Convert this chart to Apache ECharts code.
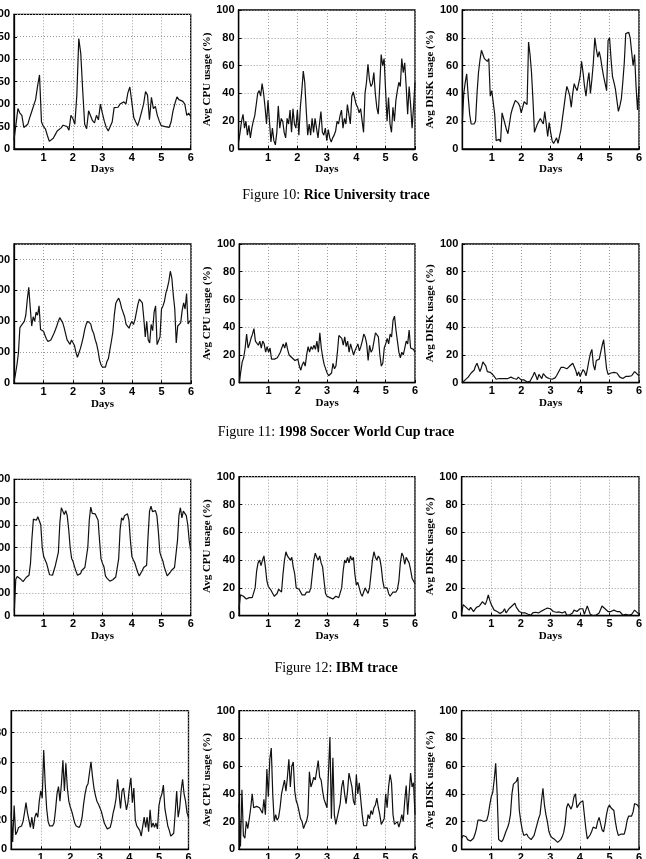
<!DOCTYPE html>
<html>
<head>
<meta charset="utf-8">
<script src="https://cdn.jsdelivr.net/npm/echarts@6/dist/echarts.min.js"></script>
<style>
html, body { margin: 0; padding: 0; background: #fff; }
#chart { width: 646px; height: 859px; }
</style>
</head>
<body>
<div id="chart"></div>
<script>
// values, evenly spaced over days 0..6
var riceReq = [20,55,90,80,75,48,44,55,70,83,87,110,140,165,60,
	50,45,30,17,16,24,32,40,44,47,53,52,50,42,75,
	68,55,120,246,213,130,55,45,85,88,63,58,75,65,100,
	80,62,48,40,42,60,92,88,93,100,102,105,100,125,138,
	105,70,60,52,66,68,100,128,120,65,115,90,95,75,62,
	52,53,50,52,48,60,85,102,116,110,110,106,100,75,80,
	72];
var riceCpu = [5,12,20,25,15,20,10,17,8,15,20,24,32,40,42,38,47,40,30,18,
	35,20,5,15,6,3,12,31,15,22,20,12,8,22,18,28,12,29,18,15,
	28,10,30,42,56,48,28,10,18,10,22,12,22,15,8,18,27,12,10,15,
	6,14,8,5,8,10,13,20,18,24,28,15,22,18,32,25,18,38,41,40,
	32,30,26,29,30,12,40,48,61,50,45,47,55,40,30,25,45,68,60,65,
	42,20,37,18,12,30,20,35,42,48,45,65,55,62,45,25,45,32,15,30,
	48];
var riceDisk = [18,40,48,54,38,25,18,17,18,20,40,55,64,71,68,65,64,63,65,38,
	42,43,25,6,7,7,5,26,22,18,14,11,18,25,29,32,35,36,33,31,
	26,30,34,33,32,77,68,55,35,12,15,18,20,22,20,18,27,18,9,19,
	12,6,4,6,8,4,9,14,22,30,38,45,42,38,30,40,47,44,42,43,
	52,63,55,45,38,48,55,40,50,62,80,72,66,70,65,58,52,47,42,78,
	80,65,52,48,43,35,27,31,36,48,62,83,84,84,80,70,60,68,45,28,
	45];

var cupReq = [5,30,60,98,180,187,190,200,220,270,310,245,185,215,200,230,220,250,174,174,
	168,155,143,135,134,140,150,160,172,185,200,212,208,196,180,160,140,146,126,140,
	137,122,100,84,98,112,130,150,175,192,200,202,192,172,162,142,127,105,75,60,
	52,49,52,70,80,108,135,165,220,258,268,275,262,242,242,215,190,184,178,192,
	200,190,205,230,255,272,276,260,210,150,200,140,130,190,170,230,250,125,130,150,
	240,250,265,292,308,330,362,340,285,240,130,185,180,195,235,260,240,290,192,200,
	205];
var cupCpu = [0,8,15,18,25,35,25,28,32,35,39,30,29,27,30,25,30,28,22,26,
	22,25,17,16,17,17,18,20,22,25,28,25,29,24,20,21,18,17,16,15,
	17,12,9,13,15,12,20,26,22,26,24,27,24,30,22,36,25,18,13,10,
	7,5,4,7,14,10,12,22,34,35,32,27,33,26,30,22,28,24,20,23,
	22,28,23,26,30,35,33,28,16,27,22,24,30,36,35,33,20,12,14,25,
	28,32,28,35,33,45,48,38,30,22,18,22,20,25,30,28,38,25,26,24,
	22];
var cupDisk = [0,1,2,3,4,5,7,8,9,12,14,11,8,11,15,16,12,8,8,7.5,
	7,5.5,4,2.5,2.5,3,3,3,3,3,3,3,3.5,4,3.5,3,2.5,2.5,4,3,
	2,2,2,1.5,0.5,0.2,1,2,5,7.5,5,2,6,6,3,6.5,7,4,3.5,3,
	3,2.5,2,3.5,5,7,9,11,12,11,10.5,10,11,12,13,14,13.5,9,5,8,
	4.5,5,9.5,8,5,10,16,21,24,13,9,16,16.5,17,22,27,31,20,10,6,
	5,7,8,7.5,7,7,5.5,4,3.5,3,3.5,4.5,5,4.5,4,5,6,8,8,6,
	5];

var ibmReq = [20,160,172,172,163,155,150,158,168,170,178,230,340,425,428,420,435,440,400,300,
	260,245,230,205,180,172,178,200,222,216,280,410,475,460,445,462,440,380,300,252,
	238,215,195,178,172,185,200,208,212,215,300,420,478,450,458,448,440,420,330,250,
	230,215,175,165,160,152,150,158,165,170,172,250,380,430,420,440,432,448,420,330,
	260,245,232,210,190,175,180,198,212,218,222,350,460,482,458,455,462,440,370,280,
	258,242,215,195,175,172,190,200,208,212,218,330,440,475,430,460,455,440,400,330,
	285];
var ibmCpu = [5,15,14,14,13,12,13,13,13,13,14,20,32,38,40,36,40,43,35,25,
	21,20,18,16,14,14,16,19,20,17,30,40,46,43,44,40,42,35,30,20,
	21,19,18,15,14,15,17,18,17,20,30,40,45,42,40,43,38,35,25,16,
	14,15,13,12,12,13,14,14,13,14,20,32,40,38,42,38,43,40,42,30,
	22,24,20,16,14,17,20,18,16,20,30,40,46,42,40,43,41,35,25,20,
	19,20,16,14,15,17,18,17,19,25,38,45,43,37,42,40,38,33,27,25,
	23];
var ibmDisk = [2,8,7,6,5,4,6,4.5,3,4.5,6,6.5,7,8.5,10,9,8,11,15,11,
	8,6,4,3.5,3,2,1.5,1,3,5,2,3.5,5,6,7,8,9,6,4.5,3,
	2.5,2,2.5,2,1.5,1,0.7,0.5,2,3,2.5,2.2,2,2.7,3.3,4,4.5,5,5.5,6,
	5,4,3,2,2.5,3,2.7,2.3,2,2.5,3,0.5,0.5,0.5,0.5,2,4,3.5,3,4,
	5,5,5,1,4,7,4,1,0.5,0,0.3,0.5,1.2,2,4.5,7,6,5,4,3,
	2,3,4,4,4,3,2,3,1.7,0.5,0.8,1,0.7,0.5,0.8,1,2.5,4,3,2,
	1];

var lastReq = [25,5,30,10,12,15,15,16,19,25,32,25,20,15,22,14,22,25,22,33,
	40,35,68,45,28,19,16,15,16,18,27,38,43,33,45,61,40,59,42,33,
	29,26,22,18,16,15,15,17,22,31,38,43,45,46,60,50,42,37,33,31,
	30,26,22,18,16,14,14,15,19,25,29,35,48,38,28,40,42,34,27,32,
	42,49,32,42,20,16,17,13,9,8,22,15,22,12,27,15,18,15,18,14,
	30,35,38,44,28,22,16,13,9,10,11,25,40,22,28,40,48,38,33,25,
	22];
var lastCpu = [33,2,43,10,8,20,15,22,30,40,30,31,31,30,30,31,26,36,25,58,
	38,65,73,40,20,25,21,23,30,40,45,50,42,52,65,45,60,63,42,35,
	32,27,22,20,15,18,20,25,56,45,48,52,50,50,64,52,50,42,36,33,
	30,30,81,22,66,25,18,19,28,33,45,50,40,33,42,55,50,45,35,32,
	54,40,48,36,25,17,17,17,25,22,28,25,30,32,37,30,25,18,20,22,
	40,30,45,54,48,25,18,19,20,16,20,25,20,35,46,25,40,55,45,48,
	25];
var lastDisk = [8,10,10,9,7,6.5,6,7,8,11,15,21,22,21,20.5,20,19.5,21,25,32,
	38,41,50,62,40,7,6,5.5,7,10,13,15.5,19,25,40,47,46,49,52,28,
	20,14,10,9,11,9,8,7,6,10,14,18,22,25,35,44,32,25,20,13,
	10,8.5,7.5,7,6,5,6,7,9,12,18,30,33,34,29,32,38,40,30,30,
	33.5,34,35,36,15,7.5,8,10.5,13,16,16,15,20,23,24,14,12.5,18,25,30,
	32,30,31,28,20,14,10,9.5,11,10,11,15,21,24,23,24,27,33,33,32,
	30];

var dayTicks = [0, 1, 2, 3, 4, 5, 6];
var captions = [
	['Figure 10: ', 'Rice University trace', 195],
	['Figure 11: ', '1998 Soccer World Cup trace', 432],
	['Figure 12: ', 'IBM trace', 668]
];

var cpuName = 'Avg CPU usage (%)';
var diskName = 'Avg DISK usage (%)';

// left, top, width, height in px for every subplot
var panels = [
	{box: [14, 14.3, 176.7, 134.7], max: 300, step: 50, data: riceReq, days: true},
	{box: [238.6, 10, 176.4, 139], max: 100, step: 20, data: riceCpu, name: cpuName, days: true},
	{box: [462.3, 10, 176.7, 139], max: 100, step: 20, data: riceDisk, name: diskName, days: true},
	{box: [14, 244, 177, 139.3], max: 450, step: 100, data: cupReq, days: true},
	{box: [239.3, 244, 175.7, 138.7], max: 100, step: 20, data: cupCpu, name: cpuName, days: true},
	{box: [462.3, 244, 176.7, 138.7], max: 100, step: 20, data: cupDisk, name: diskName, days: true},
	{box: [14.3, 479.3, 176.4, 136.4], max: 600, step: 100, data: ibmReq, days: true},
	{box: [239, 476.7, 176, 139], max: 100, step: 20, data: ibmCpu, name: cpuName, days: true},
	{box: [461.7, 476.7, 177.3, 139], max: 100, step: 20, data: ibmDisk, name: diskName, days: true},
	{box: [11.2, 710.7, 177.3, 138.6], max: 95, step: 20, data: lastReq, days: false},
	{box: [239, 710.7, 176, 138.6], max: 100, step: 20, data: lastCpu, name: cpuName, days: false},
	{box: [461.7, 710.7, 177.3, 138.6], max: 100, step: 20, data: lastDisk, name: diskName, days: false}
];

function toPoints(vals) {
	var dx = (dayTicks[dayTicks.length - 1] - dayTicks[0]) / (vals.length - 1);
	return vals.map(function (v, i) { return [i * dx, v]; });
}

var tickFont = {color: '#000', fontFamily: 'Liberation Sans', fontWeight: 'bold', fontSize: 11};
var nameFont = {color: '#000', fontFamily: 'Liberation Serif', fontWeight: 'bold', fontSize: 11};
var dots = {color: '#9a9a9a', width: 1, type: [1, 2]};

var grids = [], xAxes = [], yAxes = [], series = [];
panels.forEach(function (p, i) {
	grids.push({
		left: p.box[0], top: p.box[1], width: p.box[2], height: p.box[3],
		show: true, borderColor: '#000', borderWidth: 1.3,
		containLabel: false, outerBoundsMode: 'none'
	});
	xAxes.push({
		gridIndex: i, type: 'value',
		min: dayTicks[0], max: dayTicks[dayTicks.length - 1], interval: 1,
		name: p.days ? 'Days' : '', nameLocation: 'middle', nameGap: 14,
		nameTextStyle: nameFont,
		axisLine: {show: true, lineStyle: {color: '#000', width: 1.3}},
		axisTick: {show: true, inside: true, length: 3, lineStyle: {color: '#000'}},
		axisLabel: Object.assign({margin: 3, formatter: function (v) { return v === 0 ? '' : v; }}, tickFont),
		splitLine: {show: true, lineStyle: dots}
	});
	yAxes.push({
		gridIndex: i, type: 'value', min: 0, max: p.max, interval: p.step,
		name: p.name || '', nameLocation: 'middle', nameGap: 22, nameRotate: 90,
		nameTextStyle: nameFont,
		axisLine: {show: true, lineStyle: {color: '#000', width: 1.3}},
		axisTick: {show: true, inside: true, length: 3, lineStyle: {color: '#000'}},
		axisLabel: Object.assign({margin: 4, showMaxLabel: p.max % p.step === 0}, tickFont),
		splitLine: {show: true, lineStyle: dots}
	});
	series.push({
		type: 'line', xAxisIndex: i, yAxisIndex: i,
		data: toPoints(p.data),
		showSymbol: false, symbol: 'none',
		lineStyle: {color: '#111', width: 1.2},
		clip: true, animation: false
	});
});

var graphics = captions.map(function (c) {
	return {
		type: 'text', x: 336, y: c[2],
		style: {
			text: '{a|' + c[0] + '}{b|' + c[1] + '}',
			align: 'center', verticalAlign: 'middle',
			textAlign: 'center', textVerticalAlign: 'middle',
			rich: {
				a: {fontFamily: 'Liberation Serif', fontSize: 14, color: '#000'},
				b: {fontFamily: 'Liberation Serif', fontSize: 14, fontWeight: 'bold', color: '#000'}
			}
		}
	};
});

var chart = echarts.init(document.getElementById('chart'), null, {renderer: 'canvas'});
chart.setOption({
	animation: false,
	backgroundColor: '#fff',
	textStyle: {fontFamily: 'Liberation Sans'},
	grid: grids,
	xAxis: xAxes,
	yAxis: yAxes,
	series: series,
	graphic: graphics
});
</script>
</body>
</html>
